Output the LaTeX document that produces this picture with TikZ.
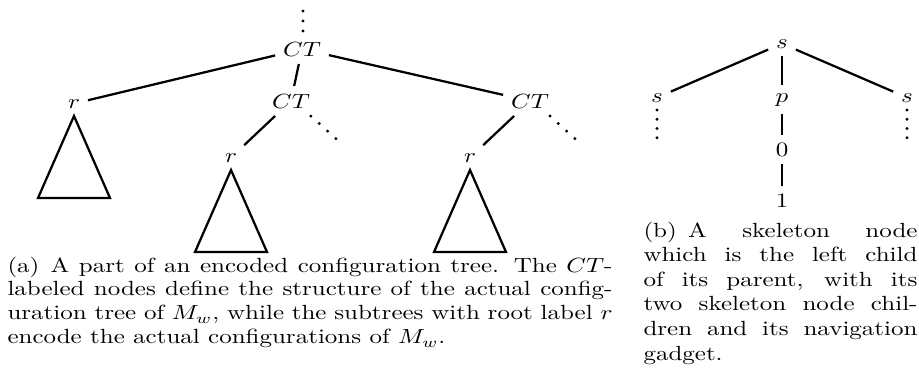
\documentclass[tikz,border=0pt]{standalone}
\usetikzlibrary{calc}
\newcommand{\vsq}[1]{\scalebox{1}[0.82]{#1}}
\tikzset{
  lbl/.style={inner sep=3pt, anchor=base},
  edge/.style={line width=0.9pt},
  tri/.style={line width=0.9pt, line join=miter},
  dotpath/.style={line width=1.3pt, line cap=round, dash pattern=on 0pt off #1},
  captext/.style={anchor=base west, inner sep=0pt}
}
\begin{document}
\begin{tikzpicture}[x=0.4pt, y=-0.4pt]
\useasboundingbox (0,0) rectangle (919,380);
% ---- (a) encoded configuration tree
\node[lbl] (ct1) at (302,56) {\vsq{$CT$}};
\node[lbl] (r1)  at (74,108) {\vsq{$r$}};
\node[lbl] (ct2) at (291,108) {\vsq{$CT$}};
\node[lbl] (ct3) at (530,108) {\vsq{$CT$}};
\node[lbl] (r2)  at (231,162) {\vsq{$r$}};
\node[lbl] (r3)  at (470,162) {\vsq{$r$}};
\draw[edge] (ct1) -- (r1);
\draw[edge] (ct1) -- (ct2);
\draw[edge] (ct1) -- (ct3);
\draw[edge] (ct2) -- (r2);
\draw[edge] (ct3) -- (r3);
\draw[tri] (r1.south) -- ++(-36,82) -- ++(72,0) -- cycle;
\draw[tri] (r2.south) -- ++(-36,82) -- ++(72,0) -- cycle;
\draw[tri] (r3.south) -- ++(-36,82) -- ++(72,0) -- cycle;
\coordinate (v1) at (303,10);
\draw[dotpath=4pt] ($(ct1.north)+(1,-3)$) -- (v1);
\coordinate (d2) at (343,145);
\draw[dotpath=4.5pt] ($(ct2.south east)+(-7,0)$) -- (d2);
\coordinate (d3) at (582,145);
\draw[dotpath=4.5pt] ($(ct3.south east)+(-7,0)$) -- (d3);
% ---- (b) skeleton node
\node[lbl] (s1) at (782,48) {\vsq{$s$}};
\node[lbl] (s2) at (657,102) {\vsq{$s$}};
\node[lbl] (s3) at (907,102) {\vsq{$s$}};
\node[lbl] (p)  at (782,102) {\vsq{$p$}};
\node[lbl] (z)  at (782,156) {\vsq{$0$}};
\node[lbl] (o)  at (782,207) {\vsq{$1$}};
\draw[edge] (s1) -- (s2);
\draw[edge] (s1) -- (s3);
\draw[edge] (s1) -- (p);
\draw[edge] (p) -- (z);
\draw[edge] (z) -- (o);
\coordinate (e2) at (657,138);
\coordinate (e3) at (907,138);
\draw[dotpath=3.7pt] (s2.south) -- (e2);
\draw[dotpath=3.7pt] (s3.south) -- (e3);
% ---- captions
\node[captext] (capa) at (7,272) {\vsq{\parbox[t]{242pt}{\fontsize{10}{11.7}\selectfont
(a)\hspace{4.5pt}A part of an encoded configuration tree. The $CT$-\linebreak
labeled nodes define the structure of the actual config-\linebreak
uration tree of $M_w$, while the subtrees with root label $r$\linebreak
encode the actual configurations of $M_w$.}}};
\node[captext] (capb) at (643,237) {\vsq{\parbox[t]{109.6pt}{\fontsize{10}{12}\selectfont
(b)\hspace{4.5pt}A skeleton node\linebreak
which is the left child\linebreak
of its parent, with its\linebreak
two skeleton node chil-\linebreak
dren and its navigation\linebreak
gadget.}}};
\end{tikzpicture}
\end{document}
